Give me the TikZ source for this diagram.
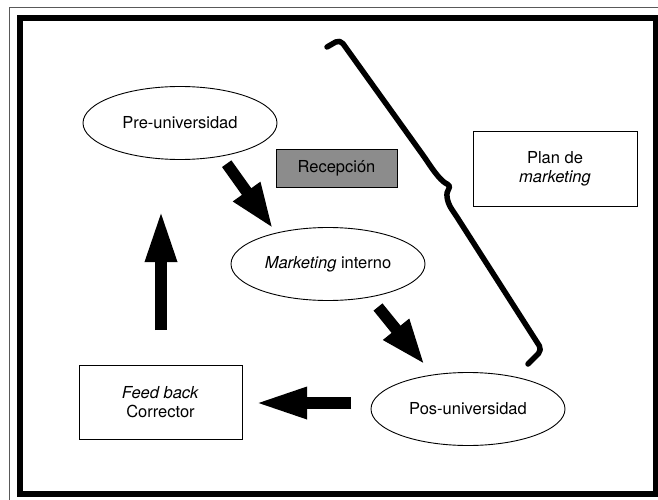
\documentclass[tikz,border=0pt]{standalone}
\usepackage{fontspec}
\setmainfont{TeX Gyre Heros}
\usetikzlibrary{positioning,shapes.geometric,arrows.meta}
\definecolor{recepgray}{RGB}{140,140,140}

\begin{document}
\begin{tikzpicture}[
  x=1pt, y=-1pt,
  font=\fontsize{16.5}{19.5}\selectfont,
  oval/.style={draw, ellipse, line width=0.9pt, minimum width=194pt, minimum height=73pt, inner sep=0pt},
  box/.style={draw, line width=0.9pt, minimum width=164pt, minimum height=75pt, align=center, inner sep=0pt},
  bigarrow/.style={line width=11.5pt, -{Triangle[length=46pt, width=30pt]}},
  brace/.style={line width=5.5pt, line join=round, line cap=round}
]
\useasboundingbox (0,0) rectangle (658,500);
\clip (0,0) rectangle (658,500);

% Frames
\draw[gray!70!black, line width=1pt] (9,8) rectangle (700,540);
\draw[line width=6pt] (20,18.5) rectangle (655.5,493.5);

% Stages
\node[oval] (pre) at (180,123) {Pre-universidad};
\node[oval] (mkt) at (328,264) {\textit{Marketing} interno};
\node[oval] (pos) at (468,409) {Pos-universidad};

% Boxes
\node[draw, fill=recepgray, line width=0.9pt, minimum width=121pt, minimum height=38pt, inner sep=0pt] (recep) at (336.5,168) {Recepción};
\node[box] (plan) at (555,169) {Plan de\\\textit{marketing}};
\node[box, minimum width=163pt, minimum height=74pt] (feed) at (160.5,402) {\textit{Feed back}\\Corrector};

% Arrow ends
\coordinate (pre-out) at (226.7,163.7);
\coordinate (mkt-in) at (273.3,229);
\coordinate (mkt-out) at (378,307);
\coordinate (pos-in) at (425,365);
\coordinate (pos-out) at (351,403);
\coordinate (feed-in) at (255,403);
\coordinate (feed-out) at (161,330);
\coordinate (pre-in) at (161,210);

% Arrows
\draw[bigarrow] (pre-out) -- (mkt-in);
\draw[bigarrow] (mkt-out) -- (pos-in);
\draw[bigarrow, -{Triangle[length=52pt, width=29pt]}] (pos-out) -- (feed-in);
\draw[bigarrow, -{Triangle[length=52pt, width=29pt]}] (feed-out) -- (pre-in);

% Brace
\draw[brace, rounded corners=5pt] (327,47) -- (340,39.5) -- (425,158)
  .. controls (435,173) and (442,182) .. (452,186)
  .. controls (446,192) and (446,201) .. (455,214)
  -- (542,350) -- (528,364);

\end{tikzpicture}
\end{document}
